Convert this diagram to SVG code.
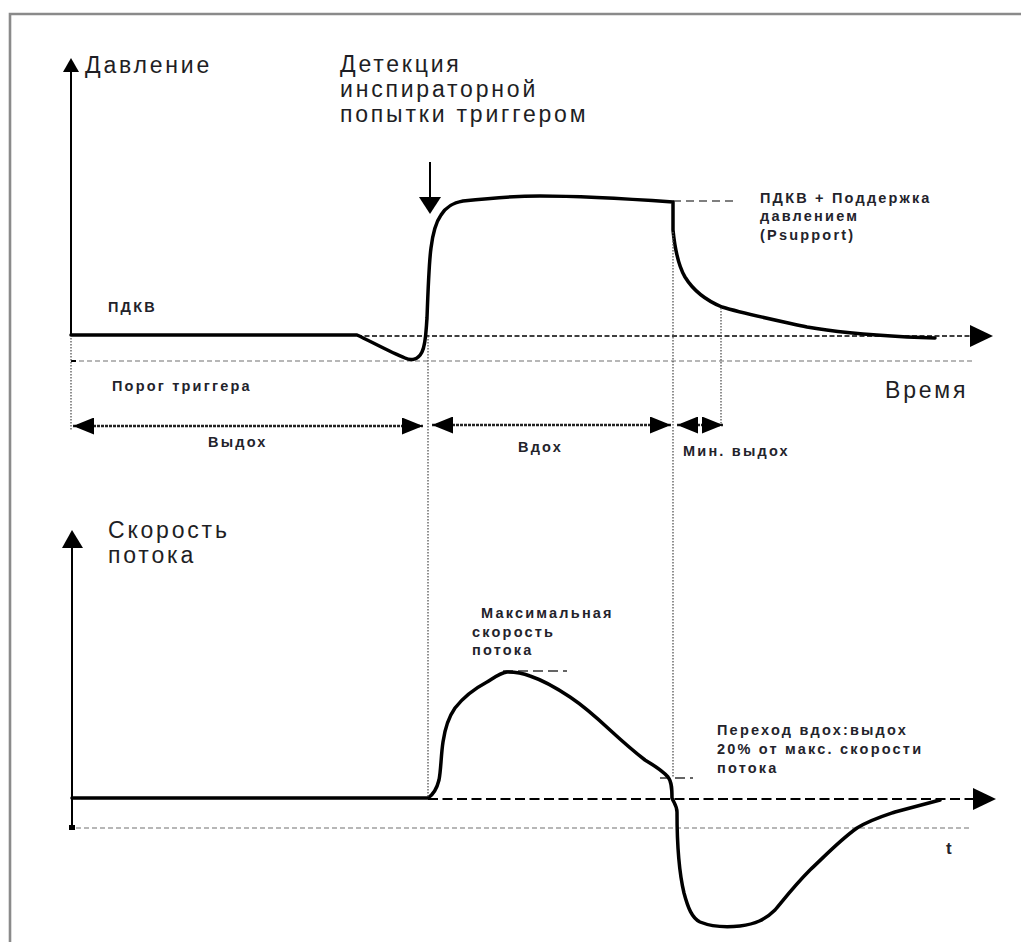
<svg xmlns="http://www.w3.org/2000/svg" width="1021" height="942" viewBox="0 0 1021 942">
<defs>
<style>
.big{font-family:"Liberation Sans",Arial,sans-serif;font-size:23px;letter-spacing:2.8px;fill:#1e1e24}
.sm{font-family:"Liberation Sans",Arial,sans-serif;font-size:14.5px;font-weight:bold;letter-spacing:2.2px;fill:#23232b}
.curve{fill:none;stroke:#000;stroke-width:3.5;stroke-linejoin:round;stroke-linecap:round}
.axis{fill:none;stroke:#000;stroke-width:2}
.vdot{fill:none;stroke:#555;stroke-width:1.3;stroke-dasharray:1.5 1.5}
.gdash{fill:none;stroke:#a0a0a0;stroke-width:1.6;stroke-dasharray:5 3}
.span{fill:none;stroke:#222;stroke-width:2.6;stroke-dasharray:3 1;marker-start:url(#sh);marker-end:url(#sh)}
.head{fill:#000}
</style>
<marker id="sh" viewBox="0 0 10 10" refX="10" refY="5" markerWidth="21" markerHeight="17" markerUnits="userSpaceOnUse" orient="auto-start-reverse" preserveAspectRatio="none">
<path d="M0,0 L10,5 L0,10 z" fill="#000"/>
</marker>
</defs>
<rect width="1021" height="942" fill="#fff"/>
<g id="frame">
<path d="M10,942 L10,14 L1021,14" fill="none" stroke="#8a8a8a" stroke-width="2.6"/>
</g>

<g id="pressure-axes">
<line class="axis" x1="71" y1="335" x2="71" y2="70"/>
<polygon class="head" points="71,58 63,72 79,72"/>
<line x1="357" y1="336" x2="972" y2="336" stroke="#000" stroke-width="1.5" stroke-dasharray="5 2.5"/>
<polygon class="head" points="993,336 970,325 970,347"/>
<line class="gdash" x1="71" y1="361" x2="973" y2="361"/>
<line x1="71" y1="361" x2="76" y2="361" stroke="#000" stroke-width="2"/>
<line x1="673" y1="201" x2="735" y2="201" stroke="#555" stroke-width="1.6" stroke-dasharray="8 5"/>
</g>

<g id="pressure-curve">
<path class="curve" d="M71,335 L357,335 C370,341 390,352 405,358 C411,361 418,360 422,352 C426,344 426,330 427,318 C428,290 429,262 431,248 C433,232 436,222 441,215 C446,207 452,203 463,201 C490,198 515,196 540,196 C580,196 630,199 673,202 L673,230 C675,250 678,265 685,277 C693,290 705,300 722,307 C745,314 775,320 807,327 C840,333 870,335 907,337 L935,338"/>
</g>

<g id="flow-axes">
<line class="axis" x1="72" y1="828" x2="72" y2="545" stroke-width="2.5"/>
<polygon class="head" points="72,530 62,548 83,548"/>
<rect x="69" y="825" width="6" height="5" fill="#000"/>
<line x1="428" y1="799" x2="976" y2="799" stroke="#000" stroke-width="2" stroke-dasharray="10 4.5"/>
<polygon class="head" points="996,799 973,788 973,810"/>
<line class="gdash" x1="76" y1="828" x2="972" y2="828"/>
<line x1="503" y1="671" x2="567" y2="671" stroke="#333" stroke-width="1.6" stroke-dasharray="10 5"/>
<line x1="660" y1="778" x2="693" y2="778" stroke="#333" stroke-width="1.6" stroke-dasharray="10 5"/>
</g>

<g id="flow-curve">
<path class="curve" d="M72,798 L428,798 C434,794 437,788 439,780 C441,770 441,755 443,742 C445,728 448,718 455,708 C462,699 472,690 487,682 C495,677 500,673 507,672 C515,672 522,673 530,676 C545,681 555,687 570,697 C585,707 595,716 610,730 C622,741 632,750 645,760 C655,766 662,770 668,777 C672,782 672,790 672,798 C674,803 677,806 677,812 C677,840 678,868 684,893 C688,908 692,918 700,922 C710,926 722,928 740,926 C755,924 765,920 775,910 C785,898 795,885 810,870 C825,856 840,840 857,828 C870,820 880,817 895,812 C910,808 925,804 940,800"/>
</g>

<g id="connectors">
<line class="vdot" x1="71" y1="338" x2="71" y2="430"/>
<line class="vdot" x1="428" y1="336" x2="428" y2="798"/>
<line class="vdot" x1="673" y1="232" x2="673" y2="777"/>
<line class="vdot" x1="721" y1="308" x2="721" y2="426"/>
<line class="span" x1="73" y1="426" x2="423" y2="426"/>
<line class="span" x1="432" y1="425" x2="671" y2="425"/>
<line class="span" x1="677" y1="425" x2="723" y2="425"/>
<line x1="430" y1="162" x2="430" y2="199" stroke="#000" stroke-width="2"/>
<polygon class="head" points="430,214 419,197 441,197"/>
</g>

<g id="labels">
<text class="big" x="85" y="73">Давление</text>
<text class="big" x="340" y="72">Детекция</text>
<text class="big" x="340" y="97">инспираторной</text>
<text class="big" x="340" y="122">попытки триггером</text>
<text class="sm" x="760" y="203">ПДКВ + Поддержка</text>
<text class="sm" x="760" y="221">давлением</text>
<text class="sm" x="760" y="240">(Psupport)</text>
<text class="sm" x="108" y="312">ПДКВ</text>
<text class="sm" x="112" y="391">Порог триггера</text>
<text class="big" x="885" y="398">Время</text>
<text class="sm" x="208" y="447">Выдох</text>
<text class="sm" x="518" y="452">Вдох</text>
<text class="sm" x="683" y="456">Мин. выдох</text>
<text class="big" x="108" y="538">Скорость</text>
<text class="big" x="108" y="563">потока</text>
<text class="sm" x="481" y="618">Максимальная</text>
<text class="sm" x="472" y="637">скорость</text>
<text class="sm" x="472" y="655">потока</text>
<text class="sm" x="717" y="735">Переход вдох:выдох</text>
<text class="sm" x="717" y="754">20% от макс. скорости</text>
<text class="sm" x="717" y="773">потока</text>
<text class="sm" x="946" y="854" style="font-size:17px">t</text>
</g>
</svg>
